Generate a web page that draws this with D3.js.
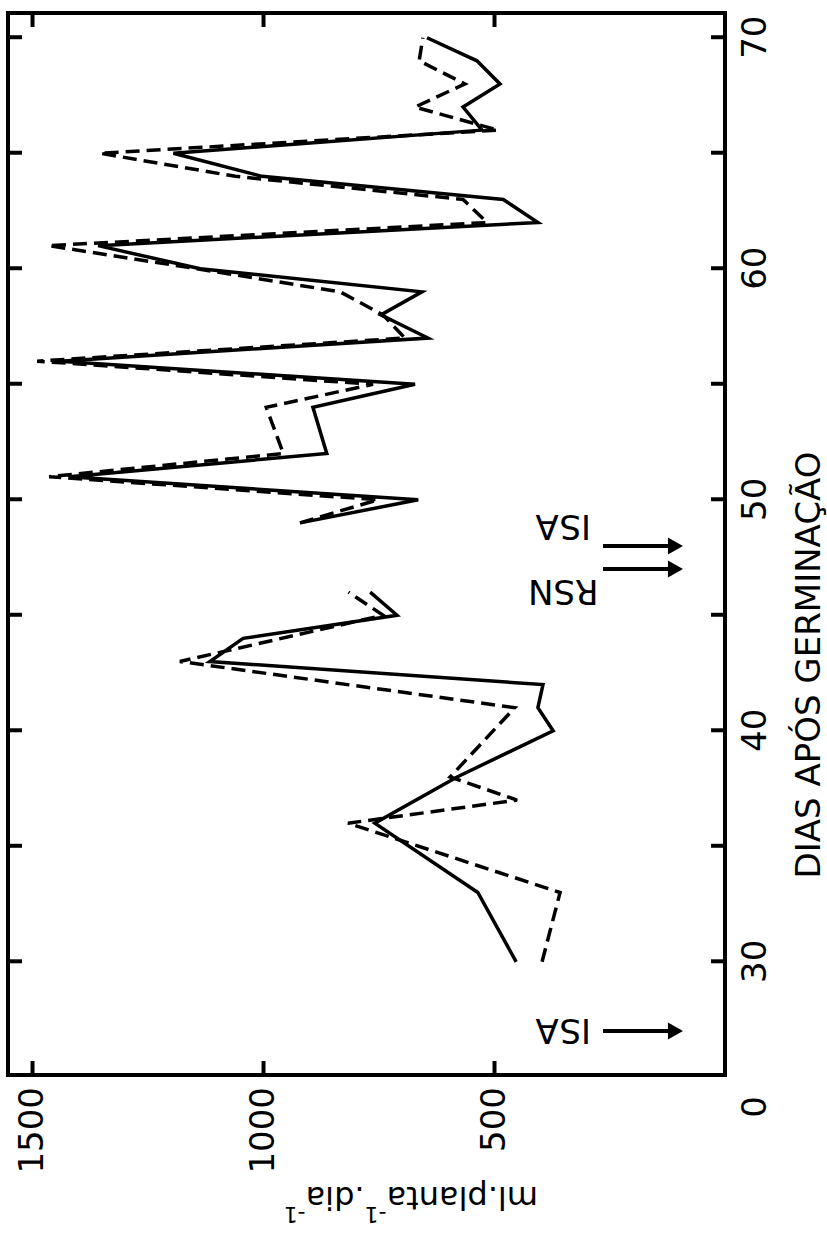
<!DOCTYPE html>
<html>
<head>
<meta charset="utf-8">
<script src="https://cdn.jsdelivr.net/npm/d3@7/dist/d3.min.js"></script>
<style>
    body { margin: 0; background: #fff; }
    svg text { font-family: "DejaVu Sans", sans-serif; fill: #000; }
</style>
</head>
<body>
<div id="chart"></div>
<script>
// days after germination and daily consumption (ml.planta-1.dia-1), two treatments
// null = gap in the record (no measurements between day 46 and day 49)
const solidDays   = [30, 33, 36, 38, 40, 41, 42, 43, 44, 45, 46, 47,
                     49, 50, 51, 52, 54, 55, 56, 57, 58, 59,
                     60, 61, 62, 63, 64, 65, 66, 67, 68, 69, 70];
const solidValues = [452, 535, 758, 580, 372, 405, 394, 1115, 1043, 710, 768, null,
                     920, 664, 1420, 862, 892, 671, 1440, 643, 745, 656,
                     1136, 1357, 405, 480, 1002, 1194, 526, 567, 487, 537, 645];

const dashedDays   = [30, 33, 36, 37, 38, 41, 43, 45, 46, 47,
                      49, 50, 51, 52, 54, 55, 56, 57, 58, 59,
                      60, 61, 62, 63, 64, 65, 66, 67, 68, 69, 70];
const dashedValues = [396, 357, 816, 450, 595, 455, 1180, 740, 815, null,
                      920, 751, 1463, 956, 993, 762, 1489, 693, 740, 833,
                      1143, 1465, 515, 567, 1060, 1353, 491, 671, 563, 662, 654];

// axes
const xDomain = [25.1, 71.07];
const yDomain = [0, 1552];
const xTicks = [30, 35, 40, 45, 50, 55, 60, 65, 70];
const xTickLabels = ["30", "", "40", "", "50", "", "60", "", "70"];
const yTicks = [500, 1000, 1500];
const yTickLabels = ["500", "1000", "1500"];
const originLabel = "0";

// event arrows
const noteDays = [27, 47, 48];
const noteLabels = ["ISA", "RSN", "ISA"];

const xTitle = "DIAS APÓS GERMINAÇÃO";

// the figure is printed turned a quarter turn: day axis on the right, going up
const margin = { left: 8, bottom: 1075 };
const W = 1062;   // length of the day axis
const H = 717;    // length of the value axis

const svg = d3.select('#chart').append('svg')
    .attr('width', 827)
    .attr('height', 1235);

const graph = svg.append('g')
    .attr('transform', `translate(${margin.left}, ${margin.bottom}) rotate(-90)`);

const x = d3.scaleLinear().domain(xDomain).range([0, W]);
const y = d3.scaleLinear().domain(yDomain).range([H, 0]);

// frame
graph.append('rect')
    .attr('x', 0).attr('y', 0)
    .attr('width', W).attr('height', H)
    .attr('fill', 'none')
    .attr('stroke', '#000')
    .attr('stroke-width', 4);

const xAxis = d3.axisBottom(x)
    .tickValues(xTicks)
    .tickFormat((d, i) => xTickLabels[i])
    .tickSize(-14).tickSizeOuter(0).tickPadding(17);
const xAxisTop = d3.axisTop(x)
    .tickValues(xTicks).tickFormat('')
    .tickSize(-14).tickSizeOuter(0);
const yAxis = d3.axisLeft(y)
    .tickValues(yTicks)
    .tickFormat((d, i) => yTickLabels[i])
    .tickSize(-14).tickSizeOuter(0).tickPadding(12);
const yAxisRight = d3.axisRight(y)
    .tickValues(yTicks).tickFormat('')
    .tickSize(-14).tickSizeOuter(0);

const axes = [
    graph.append('g').attr('transform', `translate(0, ${H})`).call(xAxis),
    graph.append('g').call(xAxisTop),
    graph.append('g').call(yAxis),
    graph.append('g').attr('transform', `translate(${W}, 0)`).call(yAxisRight)
];
axes.forEach(a => {
    a.select('.domain').remove();
    a.selectAll('line').attr('stroke', '#000').attr('stroke-width', 4);
    a.selectAll('text').attr('font-size', 34).attr('fill', '#000')
        .style('font-family', '"DejaVu Sans", sans-serif');
});

// origin "0" at the corner (axis is broken before day 25)
graph.append('text')
    .attr('x', -32)
    .attr('y', H + 17)
    .attr('dy', '0.71em')
    .attr('text-anchor', 'middle')
    .attr('font-size', 34)
    .text(originLabel);

// axis titles
graph.append('text')
    .attr('x', 410)
    .attr('y', H + 95)
    .attr('text-anchor', 'middle')
    .attr('font-size', 34)
    .text(xTitle);

const yt = graph.append('text')
    .attr('transform', `translate(-112, ${y(680)}) rotate(-90)`)
    .attr('text-anchor', 'middle')
    .attr('font-size', 32);
yt.append('tspan').text('ml.planta');
yt.append('tspan').attr('dy', -20).attr('font-size', 22).text('-1');
yt.append('tspan').attr('dy', 20).text('.dia');
yt.append('tspan').attr('dy', -20).attr('font-size', 22).text('-1');

// series
const line = d3.line()
    .defined(d => d.v != null)
    .x(d => x(d.day))
    .y(d => y(d.v));

const solid = solidDays.map((d, i) => ({ day: d, v: solidValues[i] }));
const dashed = dashedDays.map((d, i) => ({ day: d, v: dashedValues[i] }));

graph.append('path')
    .datum(dashed)
    .attr('d', line)
    .attr('fill', 'none')
    .attr('stroke', '#000')
    .attr('stroke-width', 3.5)
    .attr('stroke-dasharray', '14,7');

graph.append('path')
    .datum(solid)
    .attr('d', line)
    .attr('fill', 'none')
    .attr('stroke', '#000')
    .attr('stroke-width', 3.5);

// arrows pointing at the day axis
const tipV = y(91), startV = y(264), headLen = 15, headHalf = 8.5;
const labelShift = { 0: 0, 1: -23, 2: 19 };

noteDays.forEach((day, i) => {
    const u = x(day);
    graph.append('line')
        .attr('x1', u).attr('x2', u)
        .attr('y1', startV).attr('y2', tipV - headLen + 2)
        .attr('stroke', '#000')
        .attr('stroke-width', 4);
    graph.append('path')
        .attr('d', `M${u - headHalf},${tipV - headLen} L${u + headHalf},${tipV - headLen} L${u},${tipV} Z`)
        .attr('fill', '#000');
    graph.append('text')
        .attr('transform', `translate(${u + labelShift[i]}, ${y(350)}) rotate(-90)`)
        .attr('text-anchor', 'middle')
        .attr('dy', '0.36em')
        .attr('font-size', 34)
        .text(noteLabels[i]);
});
</script>
</body>
</html>
